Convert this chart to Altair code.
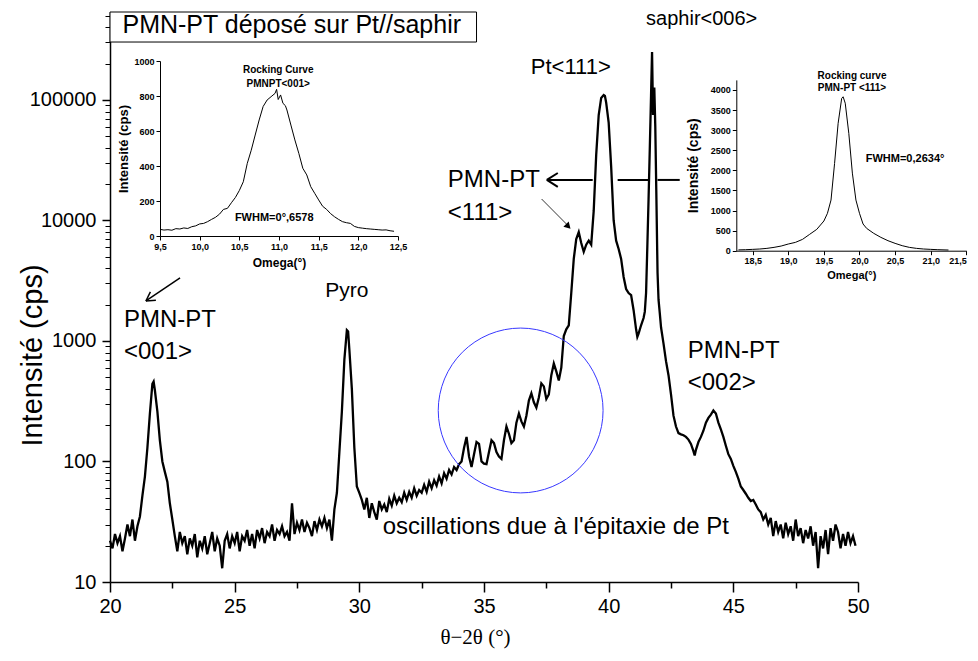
import altair as alt
import pandas as pd

# ---------------- data ----------------
scan_20_29 = [
    (20.0, 22), (20.1, 19), (20.2, 25), (20.3, 21), (20.4, 24), (20.5, 18), (20.6, 23), (20.7, 30), (20.8, 24), (20.9, 33),
    (21.0, 22), (21.1, 29), (21.2, 35), (21.3, 52), (21.4, 75), (21.5, 130), (21.6, 250), (21.7, 440), (21.75, 460), (21.8, 390),
    (21.9, 260), (22.0, 150), (22.1, 100), (22.2, 82), (22.3, 68), (22.4, 45), (22.5, 33), (22.6, 24), (22.7, 18), (22.8, 26),
    (22.9, 21), (23.0, 24), (23.1, 17), (23.2, 23), (23.3, 20), (23.4, 25), (23.5, 16), (23.6, 22), (23.7, 19), (23.8, 24),
    (23.9, 17), (24.0, 21), (24.1, 26), (24.2, 18), (24.3, 23), (24.4, 20), (24.5, 13), (24.6, 22), (24.7, 25), (24.8, 19),
    (24.9, 24), (25.0, 21), (25.1, 26), (25.2, 18), (25.3, 24), (25.4, 22), (25.5, 27), (25.6, 20), (25.7, 25), (25.8, 19),
    (25.9, 27), (26.0, 23), (26.1, 28), (26.2, 21), (26.3, 26), (26.4, 24), (26.5, 30), (26.6, 22), (26.7, 27), (26.8, 25),
    (26.9, 29), (27.0, 24), (27.1, 26), (27.2, 22), (27.3, 45), (27.4, 25), (27.5, 31), (27.6, 27), (27.7, 33), (27.8, 26),
    (27.9, 31), (28.0, 28), (28.1, 24), (28.2, 32), (28.3, 27), (28.4, 33), (28.5, 29), (28.6, 34), (28.7, 28), (28.8, 33),
    (28.9, 22),
]
scan_29_38 = [
    (29.0, 40), (29.1, 55), (29.2, 120), (29.3, 260), (29.4, 700), (29.5, 1230), (29.55, 1200), (29.6, 850), (29.7, 400), (29.8, 130),
    (29.9, 62), (30.0, 55), (30.1, 48), (30.2, 40), (30.3, 50), (30.4, 34), (30.5, 45), (30.6, 38), (30.7, 33), (30.8, 47),
    (30.9, 40), (31.0, 44), (31.1, 38), (31.2, 49), (31.3, 43), (31.4, 52), (31.5, 45), (31.6, 50), (31.7, 46), (31.8, 55),
    (31.9, 48), (32.0, 56), (32.1, 50), (32.2, 60), (32.3, 52), (32.4, 58), (32.5, 55), (32.6, 64), (32.7, 56), (32.8, 68),
    (32.9, 60), (33.0, 70), (33.1, 63), (33.2, 75), (33.3, 66), (33.4, 80), (33.5, 72), (33.6, 85), (33.7, 78), (33.8, 90),
    (33.9, 85), (34.0, 95), (34.1, 100), (34.2, 130), (34.3, 160), (34.4, 110), (34.5, 90), (34.6, 115), (34.7, 145), (34.8, 140),
    (34.9, 100), (35.0, 96), (35.1, 95), (35.2, 120), (35.3, 150), (35.4, 142), (35.5, 120), (35.6, 110), (35.7, 105), (35.8, 150),
    (35.9, 195), (36.0, 170), (36.1, 142), (36.2, 150), (36.3, 210), (36.4, 250), (36.5, 215), (36.6, 195), (36.7, 240), (36.8, 320),
    (36.9, 368), (37.0, 310), (37.1, 280), (37.2, 340), (37.3, 445), (37.4, 420), (37.5, 330), (37.6, 360), (37.7, 520), (37.8, 650),
    (37.9, 560),
]
scan_38_45 = [
    (38.0, 470), (38.1, 600), (38.2, 1100), (38.3, 1250), (38.4, 1350), (38.5, 2500), (38.6, 4800), (38.7, 7000), (38.8, 8000), (38.9, 6500),
    (39.0, 5500), (39.1, 6300), (39.2, 6800), (39.3, 6300), (39.4, 12000), (39.5, 35000), (39.6, 75000), (39.7, 104000), (39.8, 110000), (39.85, 108000),
    (39.9, 95000), (40.0, 65000), (40.1, 28000), (40.2, 10000), (40.3, 6800), (40.4, 5800), (40.5, 4800), (40.6, 3400), (40.7, 2700), (40.8, 2500),
    (40.9, 2400), (41.0, 1800), (41.1, 1250), (41.15, 1080), (41.2, 1150), (41.3, 1350), (41.4, 1550), (41.45, 1750), (41.5, 2500), (41.55, 6000),
    (41.6, 15000), (41.65, 40000), (41.7, 110000), (41.74, 250000), (41.78, 75000), (41.83, 127000), (41.87, 60000), (41.91, 17800), (41.96, 3700), (42.0, 2200),
    (42.05, 1700), (42.1, 1300), (42.2, 950), (42.3, 680), (42.4, 520), (42.5, 360), (42.6, 240), (42.7, 195), (42.8, 172), (42.9, 168),
    (43.0, 165), (43.1, 160), (43.2, 152), (43.3, 140), (43.4, 122), (43.45, 112), (43.5, 125), (43.6, 145), (43.7, 160), (43.8, 180),
    (43.9, 210), (44.0, 230), (44.1, 245), (44.2, 265), (44.3, 250), (44.4, 210), (44.5, 185), (44.6, 160), (44.7, 135), (44.8, 115),
    (44.9, 105),
]
scan_45_50 = [
    (45.0, 92), (45.1, 82), (45.2, 72), (45.3, 62), (45.4, 58), (45.5, 54), (45.6, 50), (45.7, 47), (45.8, 48), (45.9, 44),
    (46.0, 40), (46.1, 38), (46.2, 33), (46.3, 36), (46.4, 30), (46.5, 34), (46.6, 24), (46.7, 32), (46.8, 26), (46.9, 30),
    (47.0, 23), (47.1, 31), (47.2, 25), (47.3, 29), (47.4, 22), (47.5, 33), (47.6, 24), (47.7, 28), (47.8, 21), (47.9, 27),
    (48.0, 23), (48.1, 29), (48.2, 20), (48.3, 26), (48.4, 13), (48.5, 24), (48.6, 19), (48.7, 27), (48.8, 17), (48.9, 28),
    (49.0, 22), (49.1, 30), (49.2, 26), (49.3, 19), (49.4, 25), (49.5, 20), (49.6, 26), (49.7, 21), (49.8, 24), (49.9, 20),
]

# rocking curve PMNPT<001>
rocking_001 = [
    (9.5, 38), (9.55, 34), (9.6, 36), (9.65, 33), (9.7, 42), (9.75, 40), (9.8, 46), (9.85, 43), (9.9, 53), (9.95, 58),
    (10.0, 69), (10.05, 72), (10.1, 82), (10.15, 95), (10.2, 107), (10.25, 125), (10.3, 152), (10.35, 158), (10.4, 190), (10.45, 220),
    (10.5, 260), (10.55, 310), (10.6, 415), (10.65, 490), (10.7, 577), (10.75, 663), (10.8, 740), (10.85, 777), (10.9, 796), (10.95, 815),
    (10.97, 838), (10.99, 780), (11.02, 806), (11.05, 758), (11.08, 745), (11.1, 720), (11.15, 634), (11.2, 549), (11.25, 472), (11.3, 387),
    (11.35, 349), (11.4, 282), (11.45, 244), (11.5, 206), (11.55, 170), (11.6, 152), (11.65, 128), (11.7, 110), (11.75, 95), (11.8, 82),
    (11.85, 76), (11.9, 72), (11.95, 55), (12.0, 48), (12.05, 45), (12.1, 42), (12.15, 40), (12.2, 38), (12.25, 36), (12.3, 34),
    (12.35, 35), (12.4, 30), (12.45, 27),
]
# rocking curve PMN-PT <111>
rocking_111 = [
    (18.3, 20), (18.4, 25), (18.5, 33), (18.6, 42), (18.7, 58), (18.8, 83), (18.9, 116), (19.0, 166), (19.1, 207), (19.2, 282),
    (19.3, 407), (19.4, 531), (19.5, 739), (19.55, 930), (19.6, 1260), (19.65, 2170), (19.7, 3170), (19.75, 3790), (19.77, 3830), (19.8, 3670),
    (19.85, 2920), (19.9, 1930), (19.95, 1260), (20.0, 930), (20.05, 664), (20.1, 556), (20.2, 432), (20.3, 332), (20.4, 249), (20.5, 183),
    (20.6, 125), (20.7, 83), (20.8, 58), (20.9, 42), (21.0, 33), (21.1, 25), (21.25, 17),
]

x_major = [20, 25, 30, 35, 40, 45, 50]
x_minor = [22.5, 27.5, 32.5, 37.5, 42.5, 47.5]
y_major = [10, 100, 1000, 10000, 100000]
y_minor = [m * d for d in [10, 100, 1000, 10000, 100000] for m in range(2, 10) if m * d <= 537000]

labels_left = [
    ("PMN-PT", 20.56, 1493), ("<001>", 20.56, 811),
    ("PMN-PT", 33.55, 21700), ("<111>", 33.55, 11530),
    ("PMN-PT", 43.17, 826), ("<002>", 43.17, 448),
    ("oscillations due à l'épitaxie de Pt", 30.94, 28.6),
]
labels_center = [
    ("Pt<111>", 38.48, 188000, 22),
    ("saphir<006>", 43.73, 470000, 20),
    ("Pyro", 29.5, 2600, 21),
    ("PMN-PT déposé sur Pt//saphir", 27.29, 419000, 25),
]
# arrow segments (x1, y1, x2, y2, width)
arrow_segments = [
    (37.52, 21700, 39.36, 21700, 2.0), (40.36, 21700, 41.64, 21700, 2.0), (41.96, 21700, 42.85, 21700, 2.0),
    (37.52, 21700, 37.96, 24780, 2.0), (37.52, 21700, 37.96, 18970, 2.0),
    (22.81, 3335, 21.44, 2148, 1.5), (21.44, 2148, 21.84, 2178, 1.5), (21.44, 2148, 21.62, 2553, 1.5),
    (37.31, 15070, 38.42, 8850, 0.8),
]

FONT = "Liberation Sans"
W, H = 748, 570

main_df = pd.DataFrame(scan_20_29 + scan_29_38 + scan_38_45 + scan_45_50, columns=["tt", "cps"])
r1_df = pd.DataFrame(rocking_001, columns=["om", "cps"])
r2_df = pd.DataFrame(rocking_111, columns=["om", "cps"])
ll_df = pd.DataFrame(labels_left, columns=["text", "tt", "cps"])
lc_df = pd.DataFrame(labels_center, columns=["text", "tt", "cps", "fs"])
seg_df = pd.DataFrame(arrow_segments, columns=["x1", "y1", "x2", "y2", "w"])

XDOM = [20, 50]
YDOM = [10, 537000]


def xs():
    return alt.Scale(domain=XDOM, nice=False, zero=False)


def ys():
    return alt.Scale(type="log", domain=YDOM, nice=False)


common_axis = dict(domainColor="black", tickColor="black", labelColor="black", titleColor="black", grid=False)

x_axis = alt.Axis(values=x_major, format="d", tickSize=10, tickWidth=1.5, domainWidth=1.5, orient="bottom",
                  labelFont=FONT, labelFontSize=20, labelPadding=4, labelFlush=False,
                  title="θ−2θ (°)", titleFont="Liberation Serif", titleFontSize=21, titleFontWeight="normal",
                  titleX=365, titleY=55, titleBaseline="middle", titleAlign="center", **common_axis)
y_axis = alt.Axis(values=y_major, format="d", tickSize=8, tickWidth=1.5, domainWidth=1.5, orient="left",
                  labelFont=FONT, labelFontSize=20, labelPadding=6,
                  title="Intensité (cps)", titleFont=FONT, titleFontSize=29, titleFontWeight="normal",
                  titleAngle=270, titleX=-78, titleY=343, titleBaseline="middle", titleAlign="center", **common_axis)

curve = alt.Chart(main_df).mark_line(color="black", strokeWidth=2.3).encode(
    x=alt.X("tt:Q", scale=xs(), axis=x_axis),
    y=alt.Y("cps:Q", scale=ys(), axis=y_axis),
)


def px(field):
    return alt.X(f"{field}:Q", scale=xs(), axis=None, title=None)


def py(field):
    return alt.Y(f"{field}:Q", scale=ys(), axis=None, title=None)


box = alt.Chart(pd.DataFrame({"a": [20.0], "b": [34.7], "c": [537000], "d": [302600]})).mark_rect(
    fill="white", stroke="black", strokeWidth=1).encode(x=px("a"), x2="b", y=py("c"), y2="d")

txt_left = alt.Chart(ll_df).mark_text(align="left", baseline="middle", font=FONT, fontSize=24, color="black").encode(
    x=px("tt"), y=py("cps"), text="text:N")
txt_center = alt.Chart(lc_df).mark_text(align="center", baseline="middle", font=FONT, color="black").encode(
    x=px("tt"), y=py("cps"), text="text:N", size=alt.Size("fs:Q", scale=None, legend=None))

segs = alt.Chart(seg_df).mark_rule(color="black").encode(
    x=px("x1"), y=py("y1"), x2="x2", y2="y2", strokeWidth=alt.StrokeWidth("w:Q", scale=None, legend=None))

head = alt.Chart(pd.DataFrame({"tt": [38.38], "cps": [8930]})).mark_point(
    shape="triangle-up", size=55, filled=True, color="black", angle=136, opacity=1).encode(x=px("tt"), y=py("cps"))

circle = alt.Chart(pd.DataFrame({"tt": [36.47], "cps": [265]})).mark_point(
    shape="circle", size=27170, filled=False, stroke="#3838ff", strokeWidth=1, opacity=1).encode(x=px("tt"), y=py("cps"))

minor = alt.Chart(pd.DataFrame({"tt": [20], "cps": [10]})).mark_point(opacity=0).encode(
    x=alt.X("tt:Q", scale=xs(), title=None,
            axis=alt.Axis(values=x_minor, labels=False, tickSize=6, tickWidth=1.5, domain=False, orient="bottom", **common_axis)),
    y=alt.Y("cps:Q", scale=ys(), title=None,
            axis=alt.Axis(values=y_minor, labels=False, tickSize=5, tickWidth=1, domain=False, orient="left", **common_axis)),
)

# ---------------- insets ----------------
comma = "replace(format(datum.value, '.1f'), '.', ',')"
inset_axis = dict(labelFont=FONT, labelFontWeight="bold", labelFontSize=9, titleFont=FONT, titleFontWeight="bold",
                  tickSize=4, domainWidth=1, tickWidth=1, **common_axis)


def s1x():
    return alt.Scale(domain=[9.5, 12.5], range=[50, 288], nice=False, zero=False)


def s1y():
    return alt.Scale(domain=[0, 1000], range=[224, 49], nice=False, zero=False)


inset1_line = alt.Chart(r1_df).mark_line(color="black", strokeWidth=1).encode(
    x=alt.X("om:Q", scale=s1x(), axis=alt.Axis(orient="bottom", offset=-346, values=[9.5, 10, 10.5, 11, 11.5, 12, 12.5],
            labelExpr=comma, labelFlush=False, title="Omega(°)", titleFontSize=12, titlePadding=6, **inset_axis)),
    y=alt.Y("cps:Q", scale=s1y(), axis=alt.Axis(orient="left", offset=-50, values=[0, 200, 400, 600, 800, 1000], format="d",
            title="Intensité (cps)", titleFontSize=13, titlePadding=3, **inset_axis)),
)
inset1_text = alt.Chart(pd.DataFrame({
    "om": [10.99, 10.99, 10.94], "cps": [949, 869, 103],
    "text": ["Rocking Curve", "PMNPT<001>", "FWHM=0°,6578"], "fs": [10, 10, 11]})).mark_text(
    font=FONT, fontWeight="bold", color="black", align="center", baseline="middle").encode(
    x=alt.X("om:Q", scale=s1x(), axis=None, title=None), y=alt.Y("cps:Q", scale=s1y(), axis=None, title=None),
    text="text:N", size=alt.Size("fs:Q", scale=None, legend=None))


def s2x():
    return alt.Scale(domain=[18.27, 21.5], range=[626.3, 856.3], nice=False, zero=False)


def s2y():
    return alt.Scale(domain=[0, 4250], range=[238.7, 67.9], nice=False, zero=False)


inset2_line = alt.Chart(r2_df).mark_line(color="black", strokeWidth=1).encode(
    x=alt.X("om:Q", scale=s2x(), axis=alt.Axis(orient="bottom", offset=-331.3, values=[18.5, 19, 19.5, 20, 20.5, 21, 21.5],
            labelExpr=comma, labelFlush=True, title="Omega(°)", titleFontSize=11, titlePadding=4, **inset_axis)),
    y=alt.Y("cps:Q", scale=s2y(), axis=alt.Axis(orient="left", offset=-626.3, values=[0, 500, 1000, 1500, 2000, 2500, 3000, 3500, 4000],
            format="d", title="Intensité (cps)", titleFontSize=14, titlePadding=10, **inset_axis)),
)
inset2_text = alt.Chart(pd.DataFrame({
    "om": [19.895, 19.895, 20.64], "cps": [4348, 4049, 2275],
    "text": ["Rocking curve", "PMN-PT <111>", "FWHM=0,2634°"], "fs": [10, 10, 11]})).mark_text(
    font=FONT, fontWeight="bold", color="black", align="center", baseline="middle").encode(
    x=alt.X("om:Q", scale=s2x(), axis=None, title=None), y=alt.Y("cps:Q", scale=s2y(), axis=None, title=None),
    text="text:N", size=alt.Size("fs:Q", scale=None, legend=None))

chart = alt.layer(
    minor, curve, box, txt_left, txt_center, segs, head, circle,
    inset1_line, inset1_text, inset2_line, inset2_text,
).resolve_scale(
    x="independent", y="independent"
).properties(
    width=W, height=H,
    autosize=alt.AutoSizeParams(type="none"),
    padding={"left": 102, "top": 4, "right": 110, "bottom": 70},
    background="white",
).configure_view(strokeOpacity=0)

chart.save("out.html", embed_options={"renderer": "svg", "actions": False})
